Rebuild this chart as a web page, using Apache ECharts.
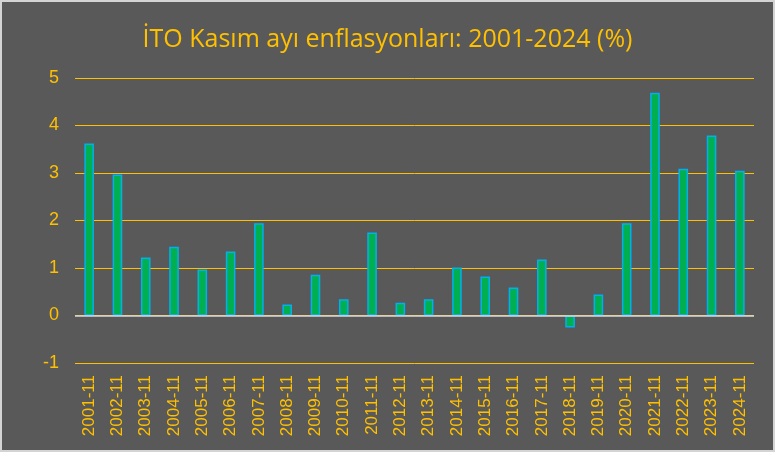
<!DOCTYPE html>
<html>
<head>
<meta charset="utf-8">
<script src="https://cdn.jsdelivr.net/npm/echarts@6/dist/echarts.min.js"></script>
<style>
html,body{margin:0;padding:0;background:#595959;}
#wrap{width:775px;height:452px;box-sizing:border-box;border:2px solid #d4d4d4;background:#595959;}
#chart{width:771px;height:448px;}
</style>
</head>
<body>
<div id="wrap"><div id="chart"></div></div>
<script>
var titleText = 'İTO Kasım ayı enflasyonları: 2001-2024 (%)';
var categories = ['2001-11','2002-11','2003-11','2004-11','2005-11','2006-11','2007-11','2008-11','2009-11','2010-11','2011-11','2012-11','2013-11','2014-11','2015-11','2016-11','2017-11','2018-11','2019-11','2020-11','2021-11','2022-11','2023-11','2024-11'];
var values = [3.62,2.97,1.22,1.45,0.97,1.35,1.94,0.23,0.86,0.34,1.75,0.27,0.34,1.01,0.82,0.59,1.18,-0.25,0.44,1.94,4.69,3.09,3.79,3.05];
var yMin = -1, yMax = 5, yStep = 1;

var chart = echarts.init(document.getElementById('chart'));
chart.setOption({
  backgroundColor: '#595959',
  animation: false,
  title: {
    text: titleText,
    left: 'center',
    top: 20,
    textStyle: {color: '#FFC000', fontSize: 25, fontWeight: 'normal', fontFamily: 'Open Sans'}
  },
  grid: {left: 73, right: 19, top: 76, bottom: 87, containLabel: false},
  xAxis: {
    type: 'category',
    data: categories,
    axisLine: {show: false, onZero: false},
    axisTick: {show: false},
    axisLabel: {color: '#FFC000', rotate: 90, fontSize: 17, fontFamily: 'Liberation Sans', margin: 12, interval: 0}
  },
  yAxis: {
    type: 'value',
    min: yMin, max: yMax, interval: yStep,
    axisLine: {show: false},
    axisTick: {show: false},
    axisLabel: {color: '#FFC000', fontSize: 18, fontFamily: 'Liberation Sans', margin: 16},
    splitLine: {lineStyle: {color: '#FFC000', width: 1}}
  },
  series: [{
    type: 'bar',
    data: values,
    barWidth: '34%',
    itemStyle: {color: '#00B050', borderColor: '#00B0F0', borderWidth: 1.5},
    markLine: {
      silent: true,
      symbol: 'none',
      label: {show: false},
      lineStyle: {color: '#d9d9d9', type: 'solid', width: 1.5},
      data: [{yAxis: 0}]
    }
  }]
});
</script>
</body>
</html>
